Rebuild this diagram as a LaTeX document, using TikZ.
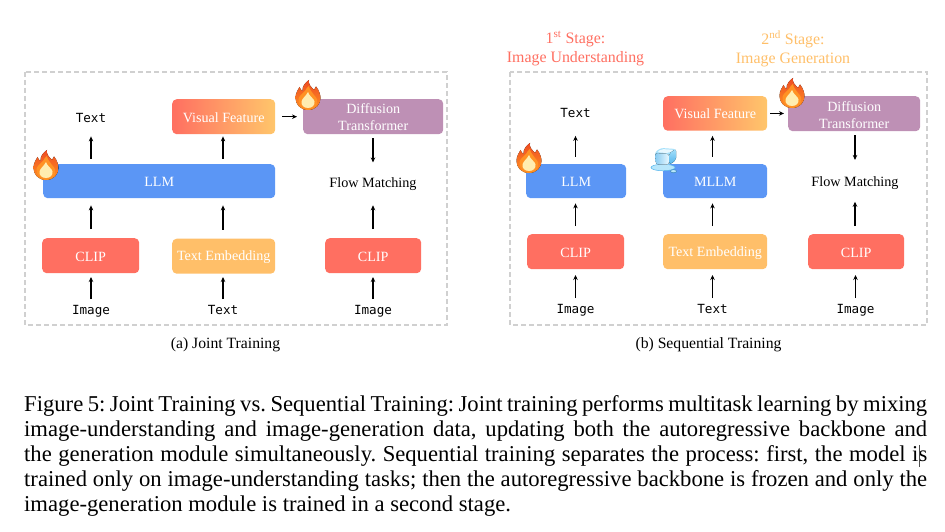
\documentclass[tikz,border=0pt]{standalone}
\usepackage{fontspec}
\setmainfont{Liberation Serif}
\newfontfamily\codefont{DejaVu Sans Mono}
\usetikzlibrary{arrows.meta}
\definecolor{cred}{HTML}{FF6F61}
\definecolor{corange}{HTML}{FFBF69}
\definecolor{cyell}{HTML}{FFC66B}
\definecolor{cblue}{HTML}{5B96F5}
\definecolor{cpurple}{HTML}{BE90B5}
\definecolor{cdash}{HTML}{D0D0D0}
\definecolor{F1}{HTML}{EE4B22}
\definecolor{F2}{HTML}{FF9224}
\definecolor{F3}{HTML}{FFEDB0}
\definecolor{I1}{HTML}{A5E0FA}
\definecolor{I2}{HTML}{E8F8FF}
\definecolor{I3}{HTML}{52B4EC}
\definecolor{I4}{HTML}{3C86B8}
\newcommand\dn[1]{\raisebox{-1pt}[\height][\depth]{#1}}
\tikzset{
  x=1pt,y=-1pt,
  panel/.style={draw=cdash,line width=1.2pt,dash pattern=on 5pt off 3pt},
  blockbox/.style={rounded corners=4.5pt,text=white,font=\fontsize{14.1}{17}\selectfont,align=center,inner sep=0pt,anchor=north west},
  plaintext/.style={font=\fontsize{14.2}{17}\selectfont,inner sep=1pt,anchor=base},
  codetext/.style={font=\codefont\fontsize{12.6}{15}\selectfont,inner sep=1pt,anchor=base},
  captext/.style={font=\fontsize{15.7}{18}\selectfont,inner sep=0pt},
  arr/.style={-{Stealth[length=5pt,width=4.5pt]},line width=1.15pt,black},
  flame/.pic={
    \fill[top color=F1,bottom color=F2]
      (0,15) .. controls (-8,15) and (-12.5,9) .. (-12.5,3) .. controls (-12.5,-2) and (-10,-5) .. (-8.5,-8)
      .. controls (-7.5,-6) and (-7,-5) .. (-5.5,-4) .. controls (-6,-9) and (-2,-13) .. (1,-15)
      .. controls (0,-11) and (3,-8) .. (6,-5) .. controls (7,-6.5) and (7.5,-7) .. (8,-8.5)
      .. controls (11,-5) and (12.5,0) .. (12.5,3) .. controls (12.5,9) and (8,15) .. (0,15) -- cycle;
    \fill[F2]
      (0,14) .. controls (-6,14) and (-10,9) .. (-9.5,4) .. controls (-9,1) and (-6,-1) .. (-3,-4)
      .. controls (-2,-7) and (0,-8) .. (1,-9) .. controls (1,-6) and (4,-3) .. (6,0)
      .. controls (9,3) and (10,6) .. (9,9) .. controls (8,12) and (4,14) .. (0,14) -- cycle;
    \fill[F3]
      (0,13) .. controls (-4.5,13) and (-7,10) .. (-6.5,6.5) .. controls (-6,3.5) and (-2,1) .. (0,-3)
      .. controls (1,1) and (6,3.5) .. (6.5,6.5) .. controls (7,10) and (4.5,13) .. (0,13) -- cycle;
  },
  icecube/.pic={
    \fill[I1!80!white,draw=I3,line width=.5pt] (-1,6.5) ellipse[x radius=12,y radius=3.3];
    \fill[I1!80!white,draw=I4,line width=.5pt] (9.5,10.2) ellipse[x radius=3,y radius=1.6];
    \fill[I1,rounded corners=2.5pt] (-9,-9) -- (-3,-13) -- (12,-12) -- (12,-1) -- (7,3.5) -- (-8,3.5) -- cycle;
    \fill[left color=I3!70!white,right color=I2,rounded corners=2.5pt] (-9,-8) -- (5,-7) -- (5,3.5) -- (-8,3.5) -- cycle;
    \fill[top color=I1,bottom color=I3,rounded corners=2pt] (5,-7.5) -- (12,-12) -- (12,-1) -- (5.5,3.5) -- cycle;
    \fill[I2,rounded corners=2pt] (-7,-8.8) -- (-2.5,-12) -- (10,-11.2) -- (4.5,-7.8) -- cycle;
  }
}
\begin{document}
\begin{tikzpicture}
\useasboundingbox (0,0) rectangle (945,532);
% panels
\draw[panel] (25,72) rectangle (447,325);
\draw[panel] (510,72) rectangle (927,325);

% ---- left panel
\node[blockbox,fill=cblue,minimum width=232pt,minimum height=34pt] (llmA) at (43,164) {\dn{LLM}};
\node[blockbox,left color=cred,right color=cyell,minimum width=103pt,minimum height=35pt] (vfA) at (172,99) {\dn{Visual Feature}};
\node[blockbox,fill=cpurple,minimum width=140pt,minimum height=35pt] (dtA) at (303,99) {Diffusion\\Transformer};
\node[blockbox,fill=cred,minimum width=97pt,minimum height=35pt] (clipA) at (42,238) {\dn{CLIP}};
\node[blockbox,fill=corange,minimum width=103pt,minimum height=35pt] (teA) at (172,238.5) {\dn{Text Embedding}};
\node[blockbox,fill=cred,minimum width=96pt,minimum height=35pt] (clipB) at (325,238) {\dn{CLIP}};
\node[codetext] (outA) at (91,123) {Text};
\node[codetext] (imgA) at (91,314) {Image};
\node[codetext] (txtA) at (223,314) {Text};
\node[codetext] (imgB) at (373,314) {Image};
\node[plaintext] (fmA) at (373,187) {Flow Matching};

\coordinate (a1) at (91,299); \coordinate (a2) at (91,277);
\draw[arr] (imgA.north |- a1) -- (imgA.north |- a2);
\draw[arr] (txtA.north |- a1) -- (txtA.north |- a2);
\draw[arr] (imgB.north |- a1) -- (imgB.north |- a2);
\draw[arr,shorten <=9pt,shorten >=7pt] (outA |- clipA.north) -- (outA |- llmA.south);
\draw[arr,shorten <=9pt,shorten >=7pt] (txtA |- teA.north) -- (txtA |- llmA.south);
\draw[arr,shorten <=9pt,shorten >=14pt] (imgB |- clipB.north) -- (fmA.south);
\draw[arr,shorten <=5pt,shorten >=2pt] (outA |- llmA.north) -- (outA |- vfA.south);
\draw[arr,shorten <=5pt,shorten >=2pt] (txtA |- llmA.north) -- (txtA |- vfA.south);
\draw[arr,shorten <=4pt,shorten >=13.5pt] (imgB |- dtA.south) -- (fmA.north);
\draw[arr,shorten <=7pt,shorten >=6pt] (vfA.east) -- (dtA.west);

% ---- right panel
\node[blockbox,fill=cblue,minimum width=100pt,minimum height=34pt] (llmC) at (526,164) {\dn{LLM}};
\node[blockbox,fill=cblue,minimum width=104pt,minimum height=34pt] (mllm) at (663,164) {\dn{MLLM}};
\node[blockbox,left color=cred,right color=cyell,minimum width=104pt,minimum height=34.5pt] (vfC) at (663,96) {Visual Feature};
\node[blockbox,fill=cpurple,minimum width=132pt,minimum height=35pt] (dtC) at (788,96) {\dn{Diffusion}\\\dn{Transformer}};
\node[blockbox,fill=cred,minimum width=97pt,minimum height=35pt] (clipC) at (527,234) {\dn{CLIP}};
\node[blockbox,fill=corange,minimum width=104pt,minimum height=35pt] (teC) at (663,234) {\dn{Text Embedding}};
\node[blockbox,fill=cred,minimum width=96pt,minimum height=35pt] (clipD) at (808,234) {\dn{CLIP}};
\node[codetext] (outC) at (575.5,118) {Text};
\node[codetext] (imgC) at (575.5,313) {Image};
\node[codetext] (txtC) at (712.5,313) {Text};
\node[codetext] (imgD) at (855.5,313) {Image};
\node[plaintext] (fmC) at (855,186) {Flow Matching};

\coordinate (b1) at (0,298); \coordinate (b2) at (0,275);
\draw[arr] (imgC.north |- b1) -- (imgC.north |- b2);
\draw[arr] (txtC.north |- b1) -- (txtC.north |- b2);
\draw[arr] (imgD.north |- b1) -- (imgD.north |- b2);
\draw[arr,shorten <=8pt,shorten >=5pt] (outC |- clipC.north) -- (outC |- llmC.south);
\draw[arr,shorten <=8pt,shorten >=5pt] (txtC |- teC.north) -- (txtC |- mllm.south);
\draw[arr,shorten <=8pt,shorten >=11.5pt] (fmC |- clipD.north) -- (fmC.south);
\draw[arr,shorten <=7pt,shorten >=5pt] (outC |- llmC.north) -- (outC |- vfC.south);
\draw[arr,shorten <=7pt,shorten >=5pt] (txtC |- mllm.north) -- (txtC |- vfC.south);
\draw[arr,shorten <=4pt,shorten >=15pt] (fmC |- dtC.south) -- (fmC.north);
\draw[arr,shorten <=3pt,shorten >=4pt] (vfC.east) -- (dtC.west |- vfC.east);

% icons
\pic at (46,165) {flame};
\pic at (308,95) {flame};
\pic at (529,158) {flame};
\pic at (792,93) {flame};
\pic at (664,161) {icecube};

% stage titles
\node[captext,text=cred,align=center,font=\fontsize{15.9}{19}\selectfont] (st1) at (575.5,48.5) {1\textsuperscript{st} Stage:\\Image Understanding};
\node[captext,text=corange,align=center,font=\fontsize{15.9}{19}\selectfont] (st2) at (793,48.5) {2\textsuperscript{nd} Stage:\\Image Generation};

% sub captions
\node[captext] (capa) at (225.5,344.5) {(a) Joint Training};
\node[captext] (capb) at (708.5,344.5) {(b) Sequential Training};

% figure caption
\node[anchor=north west,inner sep=0pt,text width=903pt,font=\fontsize{22.65}{25}\selectfont,align=justify] (figcap) at (24,395.3)
 {\frenchspacing Figure 5: Joint Training vs.\ Sequential Training: Joint training performs multitask learning by mixing\linebreak
 image-understanding and image-generation data, updating both the autoregressive backbone and\linebreak
 the generation module simultaneously. Sequential training separates the process: first, the model is\linebreak
 trained only on image-understanding tasks; then the autoregressive backbone is frozen and only the\linebreak
 image-generation module is trained in a second stage.\par};
\coordinate (curA) at (919.3,445); \coordinate (curB) at (919.3,467);
\draw[line width=.6pt,black!70] (curA) -- (curB);
\end{tikzpicture}
\end{document}
